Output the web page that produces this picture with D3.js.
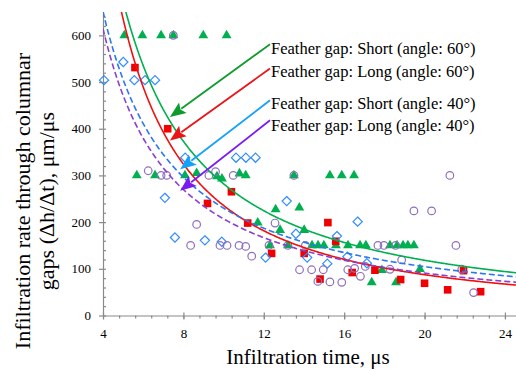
<!DOCTYPE html>
<html><head><meta charset="utf-8">
<script src="https://cdn.jsdelivr.net/npm/d3@7"></script>
<style>
body{margin:0;background:#fff}
svg{display:block}
text{font-family:"Liberation Serif","Times New Roman",serif;fill:#000}
</style>
</head><body>
<svg id="chart" width="516" height="371"></svg>
<script>
// ---------- data ----------
const xTickValues = [4, 8, 12, 16, 20, 24];
const yTickValues = [0, 100, 200, 300, 400, 500, 600];

const seriesLabels = [
  "Feather gap: Short (angle: 60°)",
  "Feather gap: Long (angle: 60°)",
  "Feather gap: Short (angle: 40°)",
  "Feather gap: Long (angle: 40°)"
];

// Short gap, 60° (green triangles)
const short60X = [5.06,5.96,6.89,7.50,8.99,10.15, 5.68,6.59,8.08,8.66,9.67,9.92,10.79,11.10,13.50,15.29,15.88,16.49,
  12.59,13.77,11.70,12.81,14.01, 12.31,13.20,14.40,14.70,14.99,15.59,16.19,16.79,17.08,18.28,18.63,18.93,19.17,19.47,
  17.37,18.58,17.88,19.77];
const short60Y = [600,600,600,600,600,600, 300,300,300,305,298,293,304,300,300,300,300,300,
  227,231,199,183,183, 150,150,150,150,150,150,150,150,150,150,150,150,150,150,
  71,71,97,99];

// Long gap, 60° (red squares)
const long60X = [5.59,7.22,9.20,10.39,11.20,15.19,12.39,14.01,15.58,14.80,16.40,17.53,18.81,20.00,21.15,21.94,22.79];
const long60Y = [531,400,240,265,198,199,133,133,159,78,92,97,77,69,55,96,51];

// Short gap, 40° (blue diamonds)
const short40X = [5.01,4.05,5.56,6.09,6.59,8.09,10.62,11.11,11.59,7.08,7.58,9.07,9.91,12.09,13.14,13.60,14.16,15.16,15.64,16.16,16.67,17.13];
const short40Y = [543,504,504,504,504,338,338,338,338,252,167,161,158,124,245,175,124,111,170,126,201,112];

// Long gap, 40° (purple circles)
const long40X = [7.50,6.25,6.89,7.17,9.27,9.60,10.48,13.50,8.66,8.36,9.82,10.17,10.77,11.10,11.40,12.56,12.26,13.20,14.07,
  13.78,14.38,14.96,14.69,15.29,15.88,16.18,16.52,16.81,17.05,17.68,17.98,18.56,18.86,18.28,19.47,20.35,21.26,21.56,21.85,22.44];
const long40Y = [600,310,300,300,300,308,300,300,195,150,150,150,150,148,127,198,150,150,150,
  98,98,98,73,72,71,98,101,84,105,150,150,150,119,99,224,224,300,150,99,49];

// power trend lines y = a * x^b
const trendA = [5062, 6356, 3145, 3187];
const trendB = [-1.254, -1.431, -1.136, -1.1875];

// ---------- styles ----------
const markerColors = ["#00b050", "#f00000", "#2f8cff", "#8e6fbc"];
const curveColors  = ["#00b050", "#f01010", "#2a78f0", "#8a3fd0"];
const arrowColors  = ["#0f9b2c", "#ea1318", "#14a2f8", "#7a1cf0"];
const curveDash    = [null, null, "6,3", "6,3"];

const svg = d3.select("#chart");
const x = d3.scaleLinear().domain([4, 24.55]).range([103, 516]);
const y = d3.scaleLinear().domain([0, 650]).range([315.5, 12]);
const axisColor = "#8a8a8a";

// ---------- axes ----------
const gy = svg.append("g").attr("transform", "translate(103,0)");
gy.call(d3.axisLeft(y).tickValues(yTickValues).tickSizeInner(4).tickSizeOuter(0).tickPadding(8));
gy.selectAll("text").style("font-size", "13px").style("font-family", '"Liberation Serif",serif');
const yMinor = d3.range(0, 650, 20);
const gy2 = svg.append("g").attr("transform", "translate(103,0)");
gy2.call(d3.axisRight(y).tickValues(yMinor).tickSize(3).tickFormat(""));
gy2.select(".domain").remove();

const gx = svg.append("g").attr("transform", "translate(0,315.5)");
gx.call(d3.axisBottom(x).tickValues(xTickValues).tickSizeInner(4).tickSizeOuter(0).tickPadding(9));
gx.selectAll("text").style("font-size", "13px").style("font-family", '"Liberation Serif",serif');
const xMinor = d3.range(4, 24.6, 0.8);
const gx2 = svg.append("g").attr("transform", "translate(0,315.5)");
gx2.call(d3.axisBottom(x).tickValues(xMinor).tickSize(3).tickFormat(""));
gx2.select(".domain").remove();
const gx3 = svg.append("g").attr("transform", "translate(0,315.5)");
gx3.call(d3.axisTop(x).tickValues(xTickValues).tickSize(3).tickFormat(""));
gx3.select(".domain").remove();

svg.selectAll(".domain, .tick line").attr("stroke", axisColor).attr("stroke-width", 1.2);
svg.selectAll(".tick text").attr("fill", "#000");

// axis titles
svg.append("text").attr("x", 308).attr("y", 364).attr("text-anchor", "middle")
  .style("font-size", "21px").text("Infiltration time, μs");
const yt = svg.append("g").attr("transform", "translate(0,201) rotate(-90)");
yt.append("text").attr("x", 0).attr("y", 30).attr("text-anchor", "middle")
  .style("font-size", "22px").text("Infiltration rate through columnar");
yt.append("text").attr("x", 0).attr("y", 54).attr("text-anchor", "middle")
  .style("font-size", "22px").text("gaps (Δh/Δt), μm/μs");

// ---------- plot ----------
svg.append("defs").append("clipPath").attr("id", "clip")
  .append("rect").attr("x", 103).attr("y", 12).attr("width", 413).attr("height", 303.5);
const plot = svg.append("g");

const pts = (xs, ys) => xs.map((v, i) => [v, ys[i]]);

// triangles
plot.append("g").selectAll("path").data(pts(short60X, short60Y)).join("path")
  .attr("transform", d => `translate(${x(d[0])},${y(d[1])})`)
  .attr("d", d3.symbol(d3.symbolTriangle, 42))
  .attr("fill", markerColors[0]);
// squares
plot.append("g").selectAll("rect").data(pts(long60X, long60Y)).join("rect")
  .attr("x", d => x(d[0]) - 3.8).attr("y", d => y(d[1]) - 3.8)
  .attr("width", 7.6).attr("height", 7.6).attr("fill", markerColors[1]);
// diamonds
plot.append("g").selectAll("path").data(pts(short40X, short40Y)).join("path")
  .attr("transform", d => `translate(${x(d[0])},${y(d[1])})`)
  .attr("d", "M0,-4.6L4.6,0L0,4.6L-4.6,0Z")
  .attr("fill", "none").attr("stroke", markerColors[2]).attr("stroke-width", 1.2);
// circles
plot.append("g").selectAll("circle").data(pts(long40X, long40Y)).join("circle")
  .attr("cx", d => x(d[0])).attr("cy", d => y(d[1])).attr("r", 3.8)
  .attr("fill", "none").attr("stroke", markerColors[3]).attr("stroke-width", 1.2);

// trend curves
const xs = d3.range(4, 24.56, 0.05);
const curveG = plot.append("g").attr("clip-path", "url(#clip)");
trendA.forEach((a, i) => {
  const line = d3.line().x(v => x(v)).y(v => y(a * Math.pow(v, trendB[i])));
  curveG.append("path").attr("d", line(xs)).attr("fill", "none")
    .attr("stroke", curveColors[i]).attr("stroke-width", 1.6)
    .attr("stroke-dasharray", curveDash[i]);
});

// ---------- annotations (data coordinates) ----------
const annStartX = 12.31;
const annStartY = [581, 529, 461, 418];
const annTipX = [7.33, 7.33, 7.84, 7.84];
const annTipY = [425, 375, 313, 267];
const annTextY = [53.5, 77, 108.5, 130.5];
const ann = svg.append("g");
annStartY.forEach((sy, i) => {
  const x1 = x(annStartX), y1 = y(sy), x2 = x(annTipX[i]), y2 = y(annTipY[i]);
  const dx = x2 - x1, dy = y2 - y1, L = Math.hypot(dx, dy);
  const ux = dx / L, uy = dy / L, hl = 16, hw = 6.5;
  const bx = x2 - ux * hl, by = y2 - uy * hl;
  ann.append("line").attr("x1", x1).attr("y1", y1).attr("x2", bx + ux * 2).attr("y2", by + uy * 2)
    .attr("stroke", arrowColors[i]).attr("stroke-width", 1.8);
  ann.append("path").attr("d", `M${x2},${y2}L${bx - uy * hw},${by + ux * hw}L${bx + ux*3},${by + uy*3}L${bx + uy * hw},${by - ux * hw}Z`)
    .attr("fill", arrowColors[i]);
  ann.append("text").attr("x", x1 + 1).attr("y", annTextY[i])
    .style("font-size", "16.5px").text(seriesLabels[i]);
});
</script>
</body></html>
